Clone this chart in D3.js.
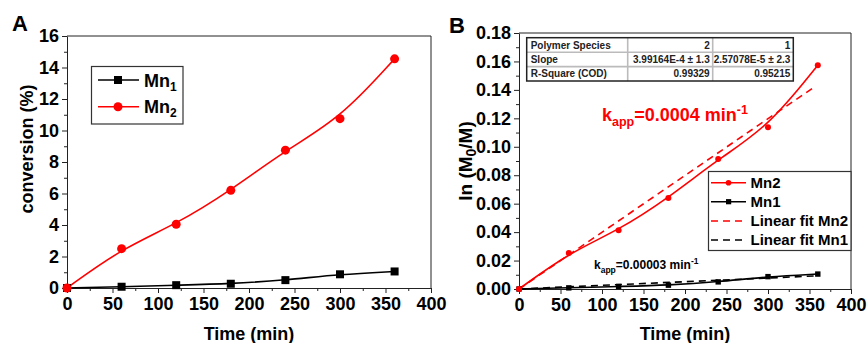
<!DOCTYPE html>
<html>
<head>
<meta charset="utf-8">
<script src="https://cdn.jsdelivr.net/npm/d3@7"></script>
<style>
  html, body { margin: 0; padding: 0; background: #fff; }
  svg { display: block; font-family: "Liberation Sans", Arial, sans-serif; font-weight: bold; }
</style>
</head>
<body>
<svg id="chart" width="867" height="343"></svg>
<script>
// Reaction time points (min)
const times = [0, 60, 120, 180, 240, 300, 360];

// Panel A: monomer conversion (%)
const convMn1 = [0, 0.08, 0.18, 0.27, 0.50, 0.87, 1.05];
const convMn2 = [0, 2.50, 4.05, 6.20, 8.75, 10.75, 14.55];

// Panel B: ln(M0/M)
const lnMn1 = [0, 0.0008, 0.0018, 0.0027, 0.0050, 0.0087, 0.0105];
const lnMn2 = [0, 0.0253, 0.0413, 0.0640, 0.0914, 0.1138, 0.1574];

// Linear fits (through origin)
const fitSlopeMn2 = 3.99164e-4;
const fitSlopeMn1 = 2.57078e-5;
const fitRange = [0, 355];

// Axis ticks
const xTicks = [0, 50, 100, 150, 200, 250, 300, 350, 400];
const xMinorTicks = [25, 75, 125, 175, 225, 275, 325, 375];
const yTicksA = [0, 2, 4, 6, 8, 10, 12, 14, 16];
const yMinorTicksA = [1, 3, 5, 7, 9, 11, 13, 15];
const yTicksB = [0, 0.02, 0.04, 0.06, 0.08, 0.10, 0.12, 0.14, 0.16, 0.18];
const yMinorTicksB = [0.01, 0.03, 0.05, 0.07, 0.09, 0.11, 0.13, 0.15, 0.17];

// Fit results table
const tableRows = [
  ["Polymer Species", "2", "1"],
  ["Slope", "3.99164E-4 \u00b1 1.3", "2.57078E-5 \u00b1 2.3"],
  ["R-Square (COD)", "0.99329", "0.95215"]
];

const RED = "#ff0000", BLACK = "#000000";
const svg = d3.select("#chart");

function frame(g, x, y, xt, xm, yt, ym, yFmt) {
  const [x0, x1] = x.range(), [y0, y1] = y.range();
  const xa = g.append("g").attr("transform", `translate(0,${y0})`)
    .call(d3.axisBottom(x).tickValues(xt).tickSize(5).tickSizeOuter(0).tickPadding(4).tickFormat(d3.format("d")));
  g.append("g").attr("transform", `translate(0,${y0})`)
    .call(d3.axisBottom(x).tickValues(xm).tickSize(3).tickFormat(""))
    .call(s => s.select(".domain").remove());
  const ya = g.append("g").attr("transform", `translate(${x0},0)`)
    .call(d3.axisLeft(y).tickValues(yt).tickSize(5).tickSizeOuter(0).tickPadding(3).tickFormat(yFmt));
  g.append("g").attr("transform", `translate(${x0},0)`)
    .call(d3.axisLeft(y).tickValues(ym).tickSize(3).tickFormat(""))
    .call(s => s.select(".domain").remove());
  [xa, ya].forEach(a => a.selectAll("text").attr("font-size", 18).attr("font-family", "Liberation Sans, Arial, sans-serif").attr("font-weight", "bold").attr("fill", "#000"));
  g.selectAll(".tick line").attr("stroke", "#222");
  g.selectAll(".domain").attr("stroke", "#222");
  // top and right border of the box
  g.append("path").attr("d", `M${x0},${y1}H${x1}V${y0}`).attr("fill", "none").attr("stroke", "#222");
}

function lineOf(x, y, curve) {
  return d3.line().x(d => x(d[0])).y(d => y(d[1])).curve(curve);
}

// ---------------- Panel A ----------------
const xA = d3.scaleLinear().domain([0, 400]).range([67, 431]);
const yA = d3.scaleLinear().domain([0, 16]).range([288, 36]);
const gA = svg.append("g");
frame(gA, xA, yA, xTicks, xMinorTicks, yTicksA, yMinorTicksA, d3.format("d"));

const ptsA1 = times.map((t, i) => [t, convMn1[i]]);
const ptsA2 = times.map((t, i) => [t, convMn2[i]]);
gA.append("path").attr("d", lineOf(xA, yA, d3.curveBasis)(ptsA1))
  .attr("fill", "none").attr("stroke", BLACK).attr("stroke-width", 1.6);
gA.append("path").attr("d", lineOf(xA, yA, d3.curveBasis)(ptsA2))
  .attr("fill", "none").attr("stroke", RED).attr("stroke-width", 1.6);
gA.selectAll(".sqA").data(ptsA1).join("rect")
  .attr("x", d => xA(d[0]) - 4).attr("y", d => yA(d[1]) - 4)
  .attr("width", 8).attr("height", 8).attr("fill", BLACK);
gA.selectAll(".ciA").data(ptsA2).join("circle")
  .attr("cx", d => xA(d[0])).attr("cy", d => yA(d[1])).attr("r", 4.5).attr("fill", RED);

gA.append("text").attr("x", 12).attr("y", 31).attr("font-size", 22).text("A");
gA.append("text").attr("x", xA(200)).attr("y", 339.5).attr("text-anchor", "middle").attr("font-size", 18).text("Time (min)");
gA.append("text").attr("transform", `translate(33,149) rotate(-90)`).attr("text-anchor", "middle").attr("font-size", 18).text("conversion (%)");

// Legend A
const legA = gA.append("g");
legA.append("rect").attr("x", 91.5).attr("y", 66.5).attr("width", 91.5).attr("height", 57.5)
  .attr("fill", "#fff").attr("stroke", "#333").attr("stroke-width", 1.2);
[["1", BLACK, "sq", 80], ["2", RED, "ci", 106.7]].forEach(([sub, col, m, yy]) => {
  legA.append("line").attr("x1", 98).attr("x2", 139).attr("y1", yy).attr("y2", yy).attr("stroke", col).attr("stroke-width", 1.6);
  if (m === "sq") legA.append("rect").attr("x", 114).attr("y", yy - 4).attr("width", 8).attr("height", 8).attr("fill", col);
  else legA.append("circle").attr("cx", 118).attr("cy", yy).attr("r", 4.5).attr("fill", col);
  const t = legA.append("text").attr("x", 144).attr("y", yy + 6.5).attr("font-size", 18);
  t.append("tspan").text("Mn");
  t.append("tspan").attr("font-size", 12).attr("dy", 4).text(sub);
});

// ---------------- Panel B ----------------
const xB = d3.scaleLinear().domain([0, 400]).range([519, 851]);
const yB = d3.scaleLinear().domain([0, 0.18]).range([289, 33]);
const gB = svg.append("g");
frame(gB, xB, yB, xTicks, xMinorTicks, yTicksB, yMinorTicksB, d3.format(".2f"));

const ptsB1 = times.map((t, i) => [t, lnMn1[i]]);
const ptsB2 = times.map((t, i) => [t, lnMn2[i]]);
const fit2 = fitRange.map(t => [t, fitSlopeMn2 * t]);
const fit1 = fitRange.map(t => [t, fitSlopeMn1 * t]);

gB.append("path").attr("d", lineOf(xB, yB, d3.curveLinear)(fit1))
  .attr("fill", "none").attr("stroke", BLACK).attr("stroke-width", 1.6).attr("stroke-dasharray", "7,5");
gB.append("path").attr("d", lineOf(xB, yB, d3.curveBasis)(ptsB1))
  .attr("fill", "none").attr("stroke", BLACK).attr("stroke-width", 1.6);
gB.append("path").attr("d", lineOf(xB, yB, d3.curveLinear)(fit2))
  .attr("fill", "none").attr("stroke", RED).attr("stroke-width", 1.6).attr("stroke-dasharray", "7,5");
gB.append("path").attr("d", lineOf(xB, yB, d3.curveBasis)(ptsB2))
  .attr("fill", "none").attr("stroke", RED).attr("stroke-width", 1.6);
gB.selectAll(".sqB").data(ptsB1).join("rect")
  .attr("x", d => xB(d[0]) - 2.7).attr("y", d => yB(d[1]) - 2.7)
  .attr("width", 5.4).attr("height", 5.4).attr("fill", BLACK);
gB.selectAll(".ciB").data(ptsB2).join("circle")
  .attr("cx", d => xB(d[0])).attr("cy", d => yB(d[1])).attr("r", 3).attr("fill", RED);

gB.append("text").attr("x", 449).attr("y", 33).attr("font-size", 22).text("B");
gB.append("text").attr("x", xB(200)).attr("y", 339.5).attr("text-anchor", "middle").attr("font-size", 18).text("Time (min)");
const yl = gB.append("text").attr("transform", `translate(472,161) rotate(-90)`).attr("text-anchor", "middle").attr("font-size", 19);
yl.append("tspan").text("ln (M");
yl.append("tspan").attr("font-size", 14).attr("dy", 4).text("0");
yl.append("tspan").attr("dy", -4).text("/M)");

// rate-constant annotations
const k2 = gB.append("text").attr("x", 602).attr("y", 121).attr("font-size", 18).attr("fill", RED);
k2.append("tspan").text("k");
k2.append("tspan").attr("font-size", 12.5).attr("dy", 5).text("app");
k2.append("tspan").attr("dy", -5).text("=0.0004 min");
k2.append("tspan").attr("font-size", 12.5).attr("dy", -7).text("-1");

const k1 = gB.append("text").attr("x", 594).attr("y", 269).attr("font-size", 12).attr("fill", BLACK);
k1.append("tspan").text("k");
k1.append("tspan").attr("font-size", 8.5).attr("dy", 3.5).text("app");
k1.append("tspan").attr("dy", -3.5).text("=0.00003 min");
k1.append("tspan").attr("font-size", 8.5).attr("dy", -5).text("-1");

// Legend B
const legB = gB.append("g");
legB.append("rect").attr("x", 708.5).attr("y", 171.5).attr("width", 142.5).attr("height", 79)
  .attr("fill", "#fff").attr("stroke", "#333").attr("stroke-width", 1.2);
const legItems = [
  { label: "Mn2", col: RED, dash: null, mark: "ci", y: 182.7 },
  { label: "Mn1", col: BLACK, dash: null, mark: "sq", y: 201.7 },
  { label: "Linear fit Mn2", col: RED, dash: "7,5", mark: null, y: 221 },
  { label: "Linear fit Mn1", col: BLACK, dash: "7,5", mark: null, y: 240 }
];
legItems.forEach(it => {
  legB.append("line").attr("x1", 711).attr("x2", 746).attr("y1", it.y).attr("y2", it.y)
    .attr("stroke", it.col).attr("stroke-width", 1.6).attr("stroke-dasharray", it.dash);
  if (it.mark === "ci") legB.append("circle").attr("cx", 728.5).attr("cy", it.y).attr("r", 2.8).attr("fill", it.col);
  if (it.mark === "sq") legB.append("rect").attr("x", 726).attr("y", it.y - 2.6).attr("width", 5.2).attr("height", 5.2).attr("fill", it.col);
  legB.append("text").attr("x", 750.5).attr("y", it.y + 5.3).attr("font-size", 15).text(it.label);
});

// Fit table
const tbl = gB.append("g");
const colX = [526.7, 627.7, 712.7, 793.3];
const rowY = [37.7, 52.2, 66.6, 81];
tbl.append("rect").attr("x", colX[0]).attr("y", rowY[0]).attr("width", colX[3] - colX[0]).attr("height", rowY[3] - rowY[0])
  .attr("fill", "#fff");
[1, 2].forEach(i => tbl.append("line").attr("x1", colX[i]).attr("x2", colX[i]).attr("y1", rowY[0]).attr("y2", rowY[3])
  .attr("stroke", "#bbb").attr("stroke-width", 1.6));
[1, 2].forEach(i => tbl.append("line").attr("x1", colX[0]).attr("x2", colX[3]).attr("y1", rowY[i]).attr("y2", rowY[i])
  .attr("stroke", "#bbb").attr("stroke-width", 1.6));
tbl.append("rect").attr("x", colX[0]).attr("y", rowY[0]).attr("width", colX[3] - colX[0]).attr("height", rowY[3] - rowY[0])
  .attr("fill", "none").attr("stroke", "#222").attr("stroke-width", 1.5);
tableRows.forEach((row, r) => {
  row.forEach((cell, c) => {
    const left = c === 0;
    tbl.append("text")
      .attr("x", left ? colX[0] + 4 : colX[c + 1] - 3)
      .attr("y", (rowY[r] + rowY[r + 1]) / 2 + 3.6)
      .attr("text-anchor", left ? "start" : "end")
      .attr("font-size", 10).attr("fill", "#222")
      .text(cell);
  });
});
</script>
</body>
</html>
